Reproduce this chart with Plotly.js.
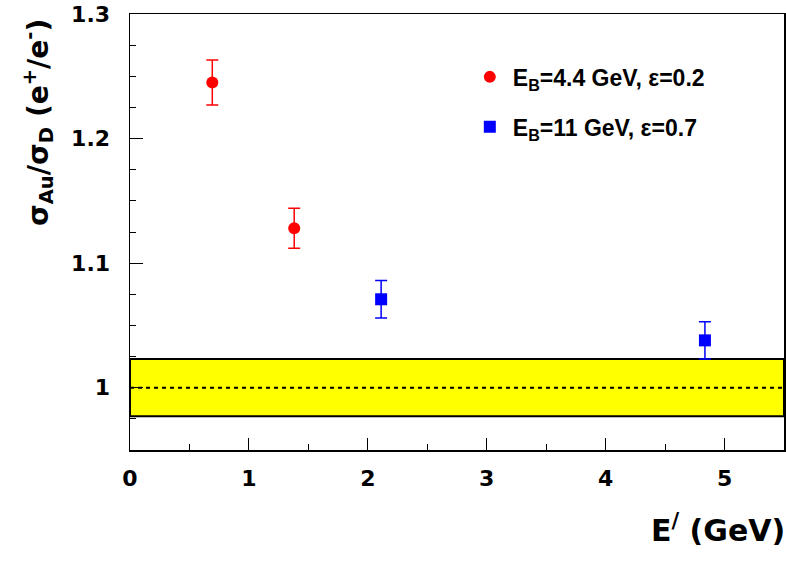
<!DOCTYPE html>
<html>
<head>
<meta charset="utf-8">
<script src="https://cdn.plot.ly/plotly-3.0.1.min.js"></script>
<style>html,body{margin:0;padding:0;background:#fff;}#chart{width:786px;height:565px;}</style>
</head>
<body>
<div id="chart"></div>
<script>
// Data
const redX = [0.692, 1.381];
const redY = [1.245, 1.128];
const redErr = [0.018, 0.016];
const redName = "E<sub>B</sub>=4.4 GeV, ε=0.2";

const blueX = [2.112, 4.835];
const blueY = [1.071, 1.038];
const blueErr = [0.015, 0.015];
const blueName = "E<sub>B</sub>=11 GeV, ε=0.7";

const bandLow = 0.977;
const bandHigh = 1.023;
const unityLine = 1.0;
const xRange = [0, 5.5];
const yRange = [0.95, 1.3];
const xTitle = 'E<sup>/</sup> (GeV)';
const yTitle = 'σ<sub>Au</sub>/σ<sub>D</sub> (e<sup>+</sup>/e<sup>-</sup>)';

const traces = [
  {
    x: redX, y: redY, type: 'scatter', mode: 'markers', name: redName,
    legendgroup: 'a',
    marker: {symbol: 'circle', size: 12, color: '#ff0000'},
    error_y: {type: 'data', array: redErr, visible: true, color: '#ff0000', thickness: 1.5, width: 6}
  },
  {
    x: blueX, y: blueY, type: 'scatter', mode: 'markers', name: blueName,
    legendgroup: 'b',
    marker: {symbol: 'square', size: 12, color: '#0000ff'},
    error_y: {type: 'data', array: blueErr, visible: true, color: '#0000ff', thickness: 1.5, width: 6}
  }
];

const tickFont = {family: 'DejaVu Sans, Arial, sans-serif', size: 22, color: '#000', weight: 'bold'};

const layout = {
  width: 786, height: 565,
  margin: {l: 130, r: 2, t: 14, b: 115},
  paper_bgcolor: '#fff', plot_bgcolor: '#fff',
  showlegend: true,
  legend: {
    x: 0.515, y: 0.905, xanchor: 'left', yanchor: 'top',
    bgcolor: 'rgba(0,0,0,0)', borderwidth: 0,
    font: {family: 'Liberation Sans, Arial, sans-serif', size: 23, color: '#000', weight: 'bold'},
    tracegroupgap: 17, traceorder: 'grouped', itemwidth: 36
  },
  xaxis: {
    range: xRange, showgrid: false, zeroline: false,
    showline: true, linecolor: '#000', linewidth: 1.5, mirror: true,
    ticks: 'inside', ticklen: 12, tickwidth: 1, tickcolor: '#000',
    dtick: 1, tick0: 0,
    minor: {ticks: 'inside', ticklen: 6, dtick: 0.5, tick0: 0, tickcolor: '#000', showgrid: false},
    tickfont: tickFont, ticklabelstandoff: 8
  },
  yaxis: {
    range: yRange, showgrid: false, zeroline: false,
    showline: true, linecolor: '#000', linewidth: 1.5, mirror: true,
    ticks: 'inside', ticklen: 13, tickwidth: 1, tickcolor: '#000',
    dtick: 0.1, tick0: 1,
    minor: {ticks: 'inside', ticklen: 6, dtick: 0.025, tick0: 1, tickcolor: '#000', showgrid: false},
    tickfont: tickFont, ticklabelstandoff: 14
  },
  shapes: [
    {type: 'rect', xref: 'x', yref: 'y', x0: xRange[0], x1: xRange[1], y0: bandLow, y1: bandHigh,
     fillcolor: '#ffff00', line: {color: '#000', width: 2}, layer: 'below'},
    {type: 'line', xref: 'x', yref: 'y', x0: xRange[0], x1: xRange[1], y0: unityLine, y1: unityLine,
     line: {color: '#000', width: 2, dash: '4px,4px'}, layer: 'below'}
  ],
  annotations: [
    {text: xTitle, xref: 'paper', yref: 'paper', x: 1.004, y: -0.18,
     xanchor: 'right', yanchor: 'middle', showarrow: false,
     font: {family: 'DejaVu Sans, Arial, sans-serif', size: 30, color: '#000', weight: 'bold'}},
    {text: yTitle, xref: 'paper', yref: 'paper', x: -0.1407, y: 0.752, textangle: -90,
     xanchor: 'center', yanchor: 'middle', showarrow: false,
     font: {family: 'DejaVu Sans, Arial, sans-serif', size: 28, color: '#000', weight: 'bold'}}
  ]
};

Plotly.newPlot('chart', traces, layout, {displayModeBar: false, staticPlot: true});
</script>
</body>
</html>
